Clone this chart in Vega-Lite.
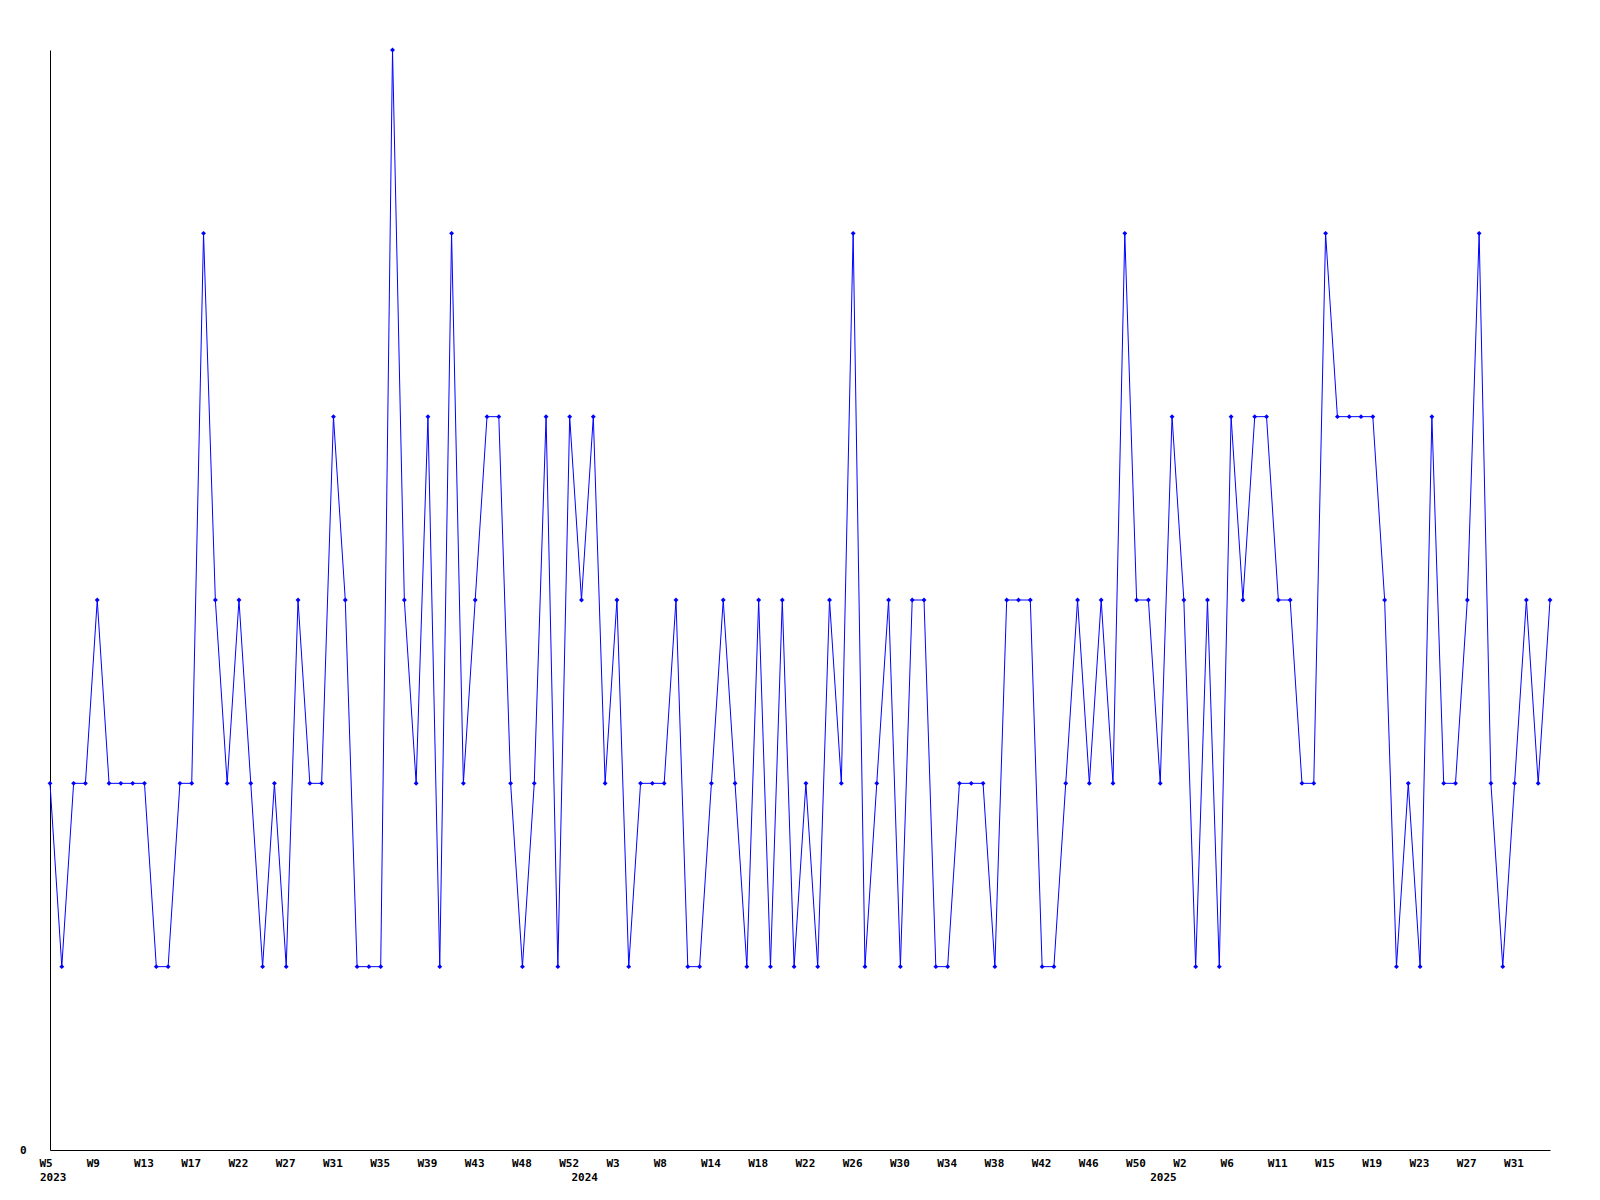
{
  "$schema": "https://vega.github.io/schema/vega-lite/v6.json",
  "width": 1500,
  "height": 1100,
  "autosize": {"type": "none"},
  "padding": {"left": 50, "top": 50, "right": 50, "bottom": 50},
  "background": "white",
  "config": {
    "view": {"stroke": null},
    "axis": {"labelFont": "DejaVu Sans Mono", "labelFontWeight": "bold", "labelFontSize": 11, "labelColor": "black", "domainColor": "black", "domainWidth": 1, "grid": false, "ticks": false, "title": null}
  },
  "data": {"values": [
    {"i":0,"v":2},{"i":1,"v":1},{"i":2,"v":2},{"i":3,"v":2},{"i":4,"v":3},{"i":5,"v":2},{"i":6,"v":2},{"i":7,"v":2},
    {"i":8,"v":2},{"i":9,"v":1},{"i":10,"v":1},{"i":11,"v":2},{"i":12,"v":2},{"i":13,"v":5},{"i":14,"v":3},{"i":15,"v":2},
    {"i":16,"v":3},{"i":17,"v":2},{"i":18,"v":1},{"i":19,"v":2},{"i":20,"v":1},{"i":21,"v":3},{"i":22,"v":2},{"i":23,"v":2},
    {"i":24,"v":4},{"i":25,"v":3},{"i":26,"v":1},{"i":27,"v":1},{"i":28,"v":1},{"i":29,"v":6},{"i":30,"v":3},{"i":31,"v":2},
    {"i":32,"v":4},{"i":33,"v":1},{"i":34,"v":5},{"i":35,"v":2},{"i":36,"v":3},{"i":37,"v":4},{"i":38,"v":4},{"i":39,"v":2},
    {"i":40,"v":1},{"i":41,"v":2},{"i":42,"v":4},{"i":43,"v":1},{"i":44,"v":4},{"i":45,"v":3},{"i":46,"v":4},{"i":47,"v":2},
    {"i":48,"v":3},{"i":49,"v":1},{"i":50,"v":2},{"i":51,"v":2},{"i":52,"v":2},{"i":53,"v":3},{"i":54,"v":1},{"i":55,"v":1},
    {"i":56,"v":2},{"i":57,"v":3},{"i":58,"v":2},{"i":59,"v":1},{"i":60,"v":3},{"i":61,"v":1},{"i":62,"v":3},{"i":63,"v":1},
    {"i":64,"v":2},{"i":65,"v":1},{"i":66,"v":3},{"i":67,"v":2},{"i":68,"v":5},{"i":69,"v":1},{"i":70,"v":2},{"i":71,"v":3},
    {"i":72,"v":1},{"i":73,"v":3},{"i":74,"v":3},{"i":75,"v":1},{"i":76,"v":1},{"i":77,"v":2},{"i":78,"v":2},{"i":79,"v":2},
    {"i":80,"v":1},{"i":81,"v":3},{"i":82,"v":3},{"i":83,"v":3},{"i":84,"v":1},{"i":85,"v":1},{"i":86,"v":2},{"i":87,"v":3},
    {"i":88,"v":2},{"i":89,"v":3},{"i":90,"v":2},{"i":91,"v":5},{"i":92,"v":3},{"i":93,"v":3},{"i":94,"v":2},{"i":95,"v":4},
    {"i":96,"v":3},{"i":97,"v":1},{"i":98,"v":3},{"i":99,"v":1},{"i":100,"v":4},{"i":101,"v":3},{"i":102,"v":4},{"i":103,"v":4},
    {"i":104,"v":3},{"i":105,"v":3},{"i":106,"v":2},{"i":107,"v":2},{"i":108,"v":5},{"i":109,"v":4},{"i":110,"v":4},{"i":111,"v":4},
    {"i":112,"v":4},{"i":113,"v":3},{"i":114,"v":1},{"i":115,"v":2},{"i":116,"v":1},{"i":117,"v":4},{"i":118,"v":2},{"i":119,"v":2},
    {"i":120,"v":3},{"i":121,"v":5},{"i":122,"v":2},{"i":123,"v":1},{"i":124,"v":2},{"i":125,"v":3},{"i":126,"v":2},{"i":127,"v":3}
  ]},
  "layer": [
    {
      "mark": {"type": "line", "color": "#0000ff", "strokeWidth": 1, "clip": false},
      "encoding": {
        "x": {"field": "i", "type": "quantitative", "scale": {"domain": [0, 127], "nice": false, "zero": false},
          "axis": {"orient": "bottom", "values": [0,4,8,12,16,20,24,28,32,36,40,44,48,52,56,60,64,68,72,76,80,84,88,92,96,100,104,108,112,116,120,124],
            "labelExpr": "['W5','W9','W13','W17','W22','W27','W31','W35','W39','W43','W48','W52','W3','W8','W14','W18','W22','W26','W30','W34','W38','W42','W46','W50','W2','W6','W11','W15','W19','W23','W27','W31'][round(datum.value/4)]",
            "labelAlign": "left", "labelOffset": -11, "labelBaseline": "top", "labelPadding": 7, "labelOverlap": false, "labelFlush": false, "labelBound": false}},
        "y": {"field": "v", "type": "quantitative", "scale": {"domain": [0, 6], "nice": false},
          "axis": {"values": [0], "format": "d", "labelPadding": 24, "labelBaseline": "middle", "labelAlign": "right"}}
      }
    },
    {
      "mark": {"type": "point", "shape": "diamond", "filled": true, "color": "#0000ff", "size": 24, "opacity": 1, "clip": false},
      "encoding": {
        "x": {"field": "i", "type": "quantitative",
          "axis": {"orient": "bottom", "domain": false, "values": [0, 45, 94],
            "labelExpr": "datum.value == 0 ? '2023' : datum.value == 45 ? '2024' : '2025'",
            "labelAlign": "left", "labelOffset": -10.5, "labelBaseline": "top", "labelPadding": 21, "labelOverlap": false, "labelFlush": false, "labelBound": false}},
        "y": {"field": "v", "type": "quantitative"}
      }
    }
  ],
  "resolve": {"axis": {"x": "independent", "y": "shared"}}
}
